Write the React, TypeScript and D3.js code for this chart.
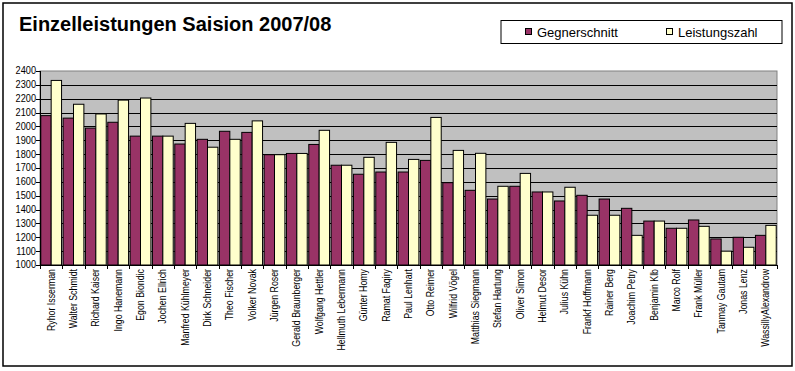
import * as d3 from "d3";

const FONT = "'Liberation Sans', Arial, sans-serif";

const players = [
  "Ryhor Isserman", "Walter Schmidt", "Richard Kaiser", "Ingo Hanemann", "Egon Biondic",
  "Jochen Ellrich", "Manfred Kühlmeyer", "Dirk Schneider", "Theo Fischer", "Volker Novak",
  "Jürgen Roser", "Gerald Braunberger", "Wolfgang Hettler", "Hellmuth Lebermann", "Günter Homy",
  "Ramat Faqiry", "Paul Lenhart", "Otto Reimer", "Wilfrid Vögel", "Matthias Siegmann",
  "Stefan Hartung", "Oliver Simon", "Helmut Desor", "Julius Kühn", "Frankf Hoffmann",
  "Rainer Berg", "Joachim Petry", "Benjamin Klb", "Marco Rolf", "Frank Müller",
  "Tanmay Gautam", "Jonas Lenz", "WassillyAlexandrow",
];

const gegnerschnitt = [
  2078, 2060, 1988, 2030, 1930, 1930, 1873, 1907, 1965, 1957,
  1796, 1805, 1870, 1720, 1655, 1671, 1671, 1755, 1594, 1539,
  1476, 1568, 1527, 1462, 1503, 1476, 1409, 1317, 1265, 1325,
  1188, 1200, 1214,
];

const leistungszahl = [
  2332, 2160, 2090, 2190, 2205, 1930, 2022, 1850, 1907, 2040,
  1796, 1805, 1972, 1720, 1777, 1885, 1762, 2065, 1827, 1806,
  1568, 1661, 1527, 1561, 1359, 1359, 1214, 1317, 1265, 1279,
  1100, 1128, 1286,
];

const yTicks = d3.range(1000, 2401, 100);

const series = [
  { name: "Gegnerschnitt", values: gegnerschnitt, color: "#993366" },
  { name: "Leistungszahl", values: leistungszahl, color: "#FFFFCC" },
];

const W = 795;
const H = 371;
const plot = { l: 40, r: 777, t: 71, b: 265 };

export default function App() {
  const x = d3.scaleBand<string>().domain(players).range([plot.l, plot.r]).paddingInner(0.07).paddingOuter(0.035);
  const step = x.step();
  const xs = d3.scaleBand<string>().domain(series.map((s) => s.name)).range([0, x.bandwidth()]);
  const y = d3.scaleLinear().domain([1000, 2400]).range([plot.b, plot.t]);

  return (
    <svg width={W} height={H} style={{ position: "absolute", left: 0, top: 0, background: "#fff" }}>
      {/* Rahmen */}
      <rect x={3} y={3} width={789} height={363} fill="#fff" stroke="#000" strokeWidth={1.5} />

      <text x={19} y={31} fontFamily={FONT} fontWeight="bold" fontSize={20} fill="#000">
        Einzelleistungen Saision 2007/08
      </text>

      {/* Legende */}
      <rect x={501} y={20.5} width={281} height={23} fill="#fff" stroke="#000" />
      {series.map((s, i) => {
        const lx = i === 0 ? 525 : 666;
        return (
          <g key={s.name}>
            <rect x={lx + 0.5} y={28.5} width={6} height={6} fill={s.color} stroke="#000" />
            <text x={lx + 12} y={37} fontFamily={FONT} fontSize={13} fill="#000">{s.name}</text>
          </g>
        );
      })}

      {/* Zeichenfläche */}
      <rect x={plot.l} y={plot.t} width={plot.r - plot.l} height={plot.b - plot.t} fill="#C0C0C0" stroke="#808080" />
      {yTicks.slice(1, -1).map((t) => (
        <line key={t} x1={plot.l} x2={plot.r} y1={Math.round(y(t)) + 0.5} y2={Math.round(y(t)) + 0.5} stroke="#000" />
      ))}

      {series.map((s) =>
        s.values.map((v, i) => (
          <rect
            key={s.name + i}
            x={x(players[i])! + xs(s.name)!}
            y={y(v)}
            width={xs.bandwidth()}
            height={y(1000) - y(v)}
            fill={s.color}
            stroke="#000"
            strokeWidth={1}
          />
        ))
      )}

      {/* Achsen */}
      <line x1={plot.l + 0.5} x2={plot.l + 0.5} y1={plot.t} y2={plot.b} stroke="#000" />
      <line x1={plot.l} x2={plot.r} y1={plot.b + 0.5} y2={plot.b + 0.5} stroke="#000" />
      {yTicks.map((t) => (
        <g key={t}>
          <line x1={plot.l - 4} x2={plot.l} y1={Math.round(y(t)) + 0.5} y2={Math.round(y(t)) + 0.5} stroke="#000" />
          <text
            x={36}
            y={y(t)}
            dy="0.35em"
            textAnchor="end"
            fontFamily={FONT}
            fontSize={10}
            fill="#000"
            transform={`translate(36,0) scale(0.92,1) translate(-36,0)`}
          >
            {t}
          </text>
        </g>
      ))}
      {d3.range(players.length + 1).map((i) => {
        const px = Math.round(plot.l + (i * (plot.r - plot.l)) / players.length) + 0.5;
        return <line key={i} x1={px} x2={px} y1={plot.b} y2={plot.b + 4} stroke="#000" />;
      })}
      {players.map((p, i) => {
        const cx = plot.l + step * (i + 0.5);
        return (
          <text
            key={p}
            transform={`translate(${cx + 3.5},269) rotate(-90) scale(0.88,1)`}
            textAnchor="end"
            fontFamily={FONT}
            fontSize={10}
            fill="#000"
          >
            {p}
          </text>
        );
      })}
    </svg>
  );
}
